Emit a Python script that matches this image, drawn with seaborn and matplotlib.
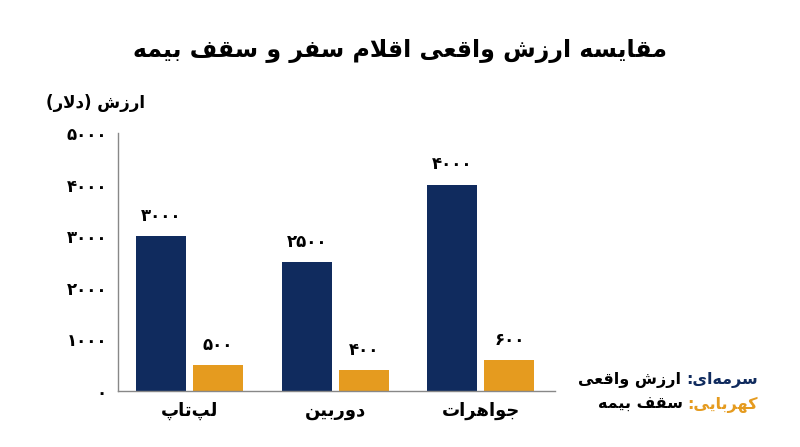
import numpy as np
import pandas as pd
import matplotlib
matplotlib.use('Agg')
import matplotlib.pyplot as plt
import seaborn as sns

categories = ['لپ‌تاپ', 'دوربین', 'جواهرات']
real_value = [3000, 2500, 4000]
insurance_cap = [500, 400, 600]
series_names = ['ارزش واقعی', 'سقف بیمه']
legend_keys = ['سرمه‌ای:', 'کهربایی:']
series_colors = ['#102b5e', '#e59b1f']
y_ticks = [0, 1000, 2000, 3000, 4000, 5000]
title = 'مقایسه ارزش واقعی اقلام سفر و سقف بیمه'
y_label = 'ارزش (دلار)'

# minimal arabic/persian shaping: isolated, final, initial, medial
FORMS = {
    'ا': ('\uFE8D', '\uFE8E', None, None),
    'ب': ('\uFE8F', '\uFE90', '\uFE91', '\uFE92'),
    'پ': ('\uFB56', '\uFB57', '\uFB58', '\uFB59'),
    'ت': ('\uFE95', '\uFE96', '\uFE97', '\uFE98'),
    'ج': ('\uFE9D', '\uFE9E', '\uFE9F', '\uFEA0'),
    'د': ('\uFEA9', '\uFEAA', None, None),
    'ر': ('\uFEAD', '\uFEAE', None, None),
    'ز': ('\uFEAF', '\uFEB0', None, None),
    'س': ('\uFEB1', '\uFEB2', '\uFEB3', '\uFEB4'),
    'ش': ('\uFEB5', '\uFEB6', '\uFEB7', '\uFEB8'),
    'ع': ('\uFEC9', '\uFECA', '\uFECB', '\uFECC'),
    'ف': ('\uFED1', '\uFED2', '\uFED3', '\uFED4'),
    'ق': ('\uFED5', '\uFED6', '\uFED7', '\uFED8'),
    'ک': ('\uFB8E', '\uFB8F', '\uFB90', '\uFB91'),
    'ل': ('\uFEDD', '\uFEDE', '\uFEDF', '\uFEE0'),
    'م': ('\uFEE1', '\uFEE2', '\uFEE3', '\uFEE4'),
    'ن': ('\uFEE5', '\uFEE6', '\uFEE7', '\uFEE8'),
    'ه': ('\uFEE9', '\uFEEA', '\uFEEB', '\uFEEC'),
    'و': ('\uFEED', '\uFEEE', None, None),
    'ی': ('\uFBFC', '\uFBFD', '\uFBFE', '\uFBFF'),
}


def joins_left(c):
    return c in FORMS and FORMS[c][2] is not None


def fa(s):
    out = []
    i = 0
    while i < len(s):
        c = s[i]
        prev = s[i - 1] if i > 0 else ''
        if c == '\u200c':
            i += 1
            continue
        if c not in FORMS:
            out.append({'(': ')', ')': '('}.get(c, c))
            i += 1
            continue
        if c == 'ل' and i + 1 < len(s) and s[i + 1] == 'ا':
            out.append('\uFEFC' if joins_left(prev) else '\uFEFB')
            i += 2
            continue
        nxt = s[i + 1] if i + 1 < len(s) else ''
        jp = joins_left(prev)
        jn = FORMS[c][2] is not None and nxt in FORMS
        iso, fin, ini, med = FORMS[c]
        out.append(med if jp and jn else fin if jp else ini if jn else iso)
        i += 1
    return ''.join(reversed(out))


def fa_num(v):
    return str(v).translate(str.maketrans('0123456789', '۰۱۲۳۴۵۶۷۸۹'))


sns.set_theme(style='white')
plt.rcParams['font.family'] = ['DejaVu Sans']
plt.rcParams['text.color'] = 'black'
plt.rcParams['xtick.color'] = 'black'
plt.rcParams['ytick.color'] = 'black'

df = pd.DataFrame({
    'category': categories * 2,
    'series': [series_names[0]] * 3 + [series_names[1]] * 3,
    'value': real_value + insurance_cap,
})

fig = plt.figure(figsize=(8, 4.47), dpi=100)
ax = fig.add_axes([0.1475, 0.1253, 0.5465, 0.5772])
sns.barplot(data=df, x='category', y='value', hue='series', palette=series_colors,
            width=0.78, gap=0.12, legend=False, ax=ax, saturation=1,
            linewidth=0, edgecolor='none')

for cont, vals in zip(ax.containers, [real_value, insurance_cap]):
    ax.bar_label(cont, labels=[fa_num(v) for v in vals], padding=8,
                 fontsize=12, fontweight='bold', color='black')

ax.set_xlim(-0.49, 2.51)
ax.set_ylim(0, 5000)
ax.set_yticks(y_ticks)
ax.set_yticklabels([fa_num(v) for v in y_ticks], fontsize=12, fontweight='bold')
ax.set_xticks(range(len(categories)))
ax.set_xticklabels([fa(c) for c in categories], fontsize=13, fontweight='bold')
ax.tick_params(axis='both', length=0, pad=8)
ax.set_xlabel('')
ax.set_ylabel('')
for side in ['top', 'right']:
    ax.spines[side].set_visible(False)
for side in ['left', 'bottom']:
    ax.spines[side].set_color('#888888')
    ax.spines[side].set_linewidth(1)

fig.text(0.5, 0.886, fa(title), ha='center', va='center', fontsize=17, fontweight='bold')
fig.text(0.12, 0.77, fa(y_label), ha='center', va='center', fontsize=12, fontweight='bold')

renderer = fig.canvas.get_renderer()
for k, (key, name, col) in enumerate(zip(legend_keys, series_names, series_colors)):
    y = 0.14 - k * 0.054
    t = fig.text(0.9475, y, fa(key), ha='right', va='baseline', fontsize=11.5,
                 fontweight='bold', color=col)
    w = t.get_window_extent(renderer).width / fig.bbox.width
    fig.text(0.9475 - w - 0.006, y, fa(name), ha='right', va='baseline', fontsize=11.5,
             fontweight='bold', color='black')

fig.savefig('out.png', dpi=100)
